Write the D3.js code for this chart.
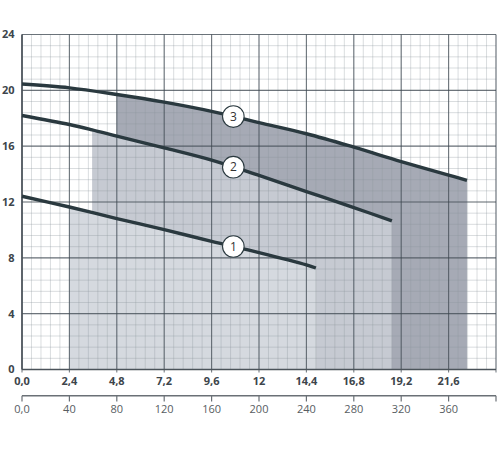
<!DOCTYPE html>
<html>
<head>
<meta charset="utf-8">
<script src="https://cdn.jsdelivr.net/npm/d3@7"></script>
<style>
  html, body { margin: 0; padding: 0; background: #fff; }
  svg { display: block; }
</style>
</head>
<body>
<svg id="chart" width="500" height="450"></svg>
<script>
// ---- data ----
const xTicks = [0, 2.4, 4.8, 7.2, 9.6, 12, 14.4, 16.8, 19.2, 21.6];
const yTicks = [0, 4, 8, 12, 16, 20, 24];
const flowTicks = [0, 40, 80, 120, 160, 200, 240, 280, 320, 360, 400];
const flowLabels = ["0,0", "40", "80", "120", "160", "200", "240", "280", "320", "360", ""];

const curve1X = [0, 2.4, 4.8, 7.2, 9.6, 12, 14.4, 14.88];
const curve1Y = [12.41, 11.64, 10.81, 10.02, 9.18, 8.38, 7.5, 7.27];
const curve2X = [0, 2.4, 3.55, 4.8, 7.2, 9.6, 12, 14.4, 16.8, 18.73];
const curve2Y = [18.2, 17.55, 17.17, 16.72, 15.88, 15.0, 13.9, 12.75, 11.6, 10.65];
const curve3X = [0, 2.4, 4.8, 7.2, 9.6, 12, 14.4, 16.8, 19.2, 21.6, 22.53];
const curve3Y = [20.45, 20.18, 19.7, 19.15, 18.49, 17.68, 16.89, 15.93, 14.9, 13.93, 13.55];

const curveNames = ["1", "2", "3"];
const rangeStart = [2.4, 3.55, 4.8];
const labelX = [10.7, 10.7, 10.7];
const shadeColors = ["#d5d9df", "#c6cad2", "#a6aab5"];

// ---- layout ----
const svg = d3.select("#chart");
const x = d3.scaleLinear().domain([0, 24]).range([22, 496]);
const y = d3.scaleLinear().domain([0, 24]).range([369.5, 34.5]);
const xFlow = d3.scaleLinear().domain([0, 400]).range([22, 496]);

const curves = [
  curve1X.map((v, i) => [v, curve1Y[i]]),
  curve2X.map((v, i) => [v, curve2Y[i]]),
  curve3X.map((v, i) => [v, curve3Y[i]])
];

// shaded operating ranges (drawn 3, 2, 1)
const area = d3.area().x(d => x(d[0])).y0(y(0)).y1(d => y(d[1])).curve(d3.curveCatmullRom.alpha(0.5));
[2, 1, 0].forEach(i => {
  const pts = curves[i].filter(d => d[0] >= rangeStart[i] - 1e-9);
  svg.append("path").attr("d", area(pts)).attr("fill", shadeColors[i]);
});

// grid
const g = svg.append("g");
const minorX = d3.range(0, 24.001, 0.48);
const minorY = d3.range(0, 24.001, 0.8);
const minorStroke = "rgba(140,148,156,0.32)";
g.selectAll("line.mx").data(minorX).join("line")
  .attr("x1", d => x(d)).attr("x2", d => x(d)).attr("y1", y(0)).attr("y2", y(24))
  .attr("stroke", minorStroke).attr("stroke-width", 1);
g.selectAll("line.my").data(minorY).join("line")
  .attr("y1", d => y(d)).attr("y2", d => y(d)).attr("x1", x(0)).attr("x2", x(24))
  .attr("stroke", minorStroke).attr("stroke-width", 1);
g.selectAll("line.MX").data(xTicks.concat([24])).join("line")
  .attr("x1", d => x(d)).attr("x2", d => x(d)).attr("y1", y(0) + 3).attr("y2", y(24))
  .attr("stroke", "rgba(60,70,78,0.7)").attr("stroke-width", 1.1);
g.selectAll("line.MY").data(yTicks).join("line")
  .attr("y1", d => y(d)).attr("y2", d => y(d)).attr("x1", x(0)).attr("x2", x(24))
  .attr("stroke", "rgba(60,70,78,0.7)").attr("stroke-width", 1.1);

// main axes lines
svg.append("line").attr("x1", x(0)).attr("x2", x(0)).attr("y1", y(0)).attr("y2", y(24))
  .attr("stroke", "#4b535a").attr("stroke-width", 1.6);
svg.append("line").attr("x1", x(0)).attr("x2", x(24)).attr("y1", y(0)).attr("y2", y(0))
  .attr("stroke", "#4b535a").attr("stroke-width", 1.6);

// curves
const line = d3.line().x(d => x(d[0])).y(d => y(d[1])).curve(d3.curveCatmullRom.alpha(0.5));
curves.forEach(c => {
  svg.append("path").attr("d", line(c)).attr("fill", "none")
    .attr("stroke", "#2a393f").attr("stroke-width", 3.4).attr("stroke-linecap", "butt");
});

// curve labels
curves.forEach((c, i) => {
  const xs = c.map(d => d[0]);
  const j = d3.bisectLeft(xs, labelX[i]);
  const a = c[j - 1], b = c[j];
  const yv = a[1] + (b[1] - a[1]) * (labelX[i] - a[0]) / (b[0] - a[0]);
  svg.append("circle").attr("cx", x(labelX[i])).attr("cy", y(yv)).attr("r", 10.8)
    .attr("fill", "#fff").attr("stroke", "#2a393f").attr("stroke-width", 1.1);
  svg.append("text").attr("x", x(labelX[i])).attr("y", y(yv)).attr("dy", "0.36em")
    .attr("text-anchor", "middle").attr("font-family", "Open Sans, sans-serif")
    .attr("font-size", 12).attr("fill", "#333").text(curveNames[i]);
});

// tick labels
const fmt = d => d3.format(".1f")(d).replace(".", ",");
svg.append("g").selectAll("text").data(xTicks).join("text")
  .attr("x", d => x(d)).attr("y", 381.5).attr("dy", "0.35em").attr("text-anchor", "middle")
  .attr("font-family", "Open Sans, sans-serif").attr("font-weight", "bold").attr("font-size", 11)
  .attr("fill", "#3d454b").text(d => (d === 12 ? "12" : fmt(d)));
svg.append("g").selectAll("text").data(yTicks).join("text")
  .attr("x", 14.5).attr("y", d => y(d)).attr("dy", "0.35em").attr("text-anchor", "end")
  .attr("font-family", "Open Sans, sans-serif").attr("font-weight", "bold").attr("font-size", 11)
  .attr("fill", "#3d454b").text(d => d);

// secondary flow axis
const fa = svg.append("g");
fa.append("line").attr("x1", xFlow(0)).attr("x2", xFlow(400)).attr("y1", 395.7).attr("y2", 395.7)
  .attr("stroke", "#6a7076").attr("stroke-width", 1.5);
fa.selectAll("line.t").data(flowTicks).join("line")
  .attr("x1", d => xFlow(d)).attr("x2", d => xFlow(d)).attr("y1", 395.7).attr("y2", 401.5)
  .attr("stroke", "#6a7076").attr("stroke-width", 1.2);
fa.selectAll("text").data(flowTicks).join("text")
  .attr("x", d => xFlow(d)).attr("y", 409.5).attr("dy", "0.35em").attr("text-anchor", "middle")
  .attr("font-family", "Open Sans, sans-serif").attr("font-size", 11)
  .attr("fill", "#575d62").text((d, i) => flowLabels[i]);
</script>
</body>
</html>
